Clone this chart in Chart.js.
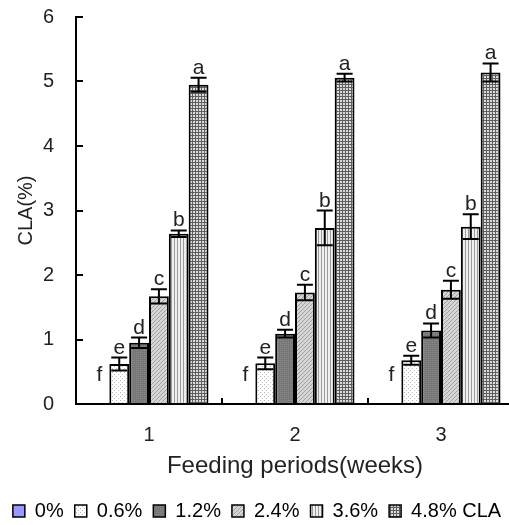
<!DOCTYPE html>
<html>
<head>
<meta charset="utf-8">
<script src="https://cdn.jsdelivr.net/npm/chart.js@4.4.0/dist/chart.umd.min.js"></script>
<style>
  html, body { margin: 0; padding: 0; background: #fff; overflow: hidden; }
  #wrap { width: 520px; height: 525px; }
</style>
</head>
<body>
<div id="wrap"><canvas id="chart" width="520" height="525"></canvas></div>
<script>
  // categories (feeding period, weeks)
  const weeks = ['1', '2', '3'];
  const levels = ['0%', '0.6%', '1.2%', '2.4%', '3.6%', '4.8% CLA'];

  // CLA (%) per dietary CLA level
  const cla0  = [0, 0, 0];
  const cla06 = [0.62, 0.63, 0.68];
  const cla12 = [0.95, 1.09, 1.14];
  const cla24 = [1.67, 1.73, 1.77];
  const cla36 = [2.64, 2.73, 2.75];
  const cla48 = [4.95, 5.06, 5.14];

  // standard errors
  const err0  = [0, 0, 0];
  const err06 = [0.10, 0.09, 0.07];
  const err12 = [0.08, 0.06, 0.11];
  const err24 = [0.11, 0.12, 0.14];
  const err36 = [0.05, 0.27, 0.19];
  const err48 = [0.11, 0.06, 0.14];

  // significance letters (same in every period)
  const letters = ['f', 'e', 'd', 'c', 'b', 'a'];

  const yTicks = [0, 1, 2, 3, 4, 5, 6];

  const FONT = '"Liberation Sans", Arial, sans-serif';

  function makePattern(size, draw) {
    const c = document.createElement('canvas');
    c.width = size; c.height = size;
    const g = c.getContext('2d');
    draw(g, size);
    return g.createPattern(c, 'repeat');
  }

  const fills = [
    '#9999ff',
    makePattern(4, (g) => {           // sparse dots
      g.fillStyle = '#ffffff'; g.fillRect(0, 0, 4, 4);
      g.fillStyle = '#b8b8b8'; g.fillRect(0, 0, 1, 1); g.fillRect(2, 2, 1, 1);
    }),
    makePattern(2, (g) => {           // dark grey
      g.fillStyle = '#777777'; g.fillRect(0, 0, 2, 2);
      g.fillStyle = '#888888'; g.fillRect(0, 0, 1, 1);
    }),
    makePattern(4, (g) => {           // light diagonal
      g.fillStyle = '#d6d6d6'; g.fillRect(0, 0, 4, 4);
      g.fillStyle = '#a0a0a0';
      for (let i = 0; i < 4; i++) g.fillRect(i, 3 - i, 1, 1);
    }),
    makePattern(3, (g) => {           // vertical stripes
      g.fillStyle = '#f0f0f0'; g.fillRect(0, 0, 3, 3);
      g.fillStyle = '#9a9a9a'; g.fillRect(0, 0, 1, 3);
    }),
    makePattern(3, (g) => {           // grid
      g.fillStyle = '#dcdcdc'; g.fillRect(0, 0, 3, 3);
      g.fillStyle = '#5e5e5e'; g.fillRect(0, 0, 3, 1); g.fillRect(0, 0, 1, 3);
    })
  ];

  const values = [cla0, cla06, cla12, cla24, cla36, cla48];
  const errors = [err0, err06, err12, err24, err36, err48];

  const datasets = levels.map((name, i) => ({
    label: name,
    data: values[i],
    backgroundColor: fills[i],
    borderColor: '#000',
    borderWidth: 2,
    borderSkipped: 'bottom',
    categoryPercentage: 0.815,
    barPercentage: 1
  }));

  // axes lines, inward ticks, error bars and letters
  const extras = {
    id: 'extras',
    afterDatasetsDraw(chart) {
      const ctx = chart.ctx;
      const ys = chart.scales.y, xs = chart.scales.x;
      const area = chart.chartArea;
      ctx.save();
      ctx.strokeStyle = '#000';
      ctx.lineWidth = 2;
      ctx.lineCap = 'butt';
      const x0 = Math.round(area.left), yb = Math.round(area.bottom);
      ctx.beginPath();
      ctx.moveTo(x0, Math.round(area.top) - 1); ctx.lineTo(x0, yb + 1);
      ctx.moveTo(x0 - 1, yb); ctx.lineTo(area.right, yb);
      ctx.stroke();
      // inward ticks
      yTicks.forEach(t => {
        if (t === 0) return;
        const py = Math.round(ys.getPixelForValue(t));
        ctx.beginPath(); ctx.moveTo(x0, py); ctx.lineTo(x0 + 7, py); ctx.stroke();
      });
      const step = xs.getPixelForValue(1) - xs.getPixelForValue(0);
      weeks.forEach((w, k) => {
        const px = Math.round(xs.getPixelForValue(k) + step / 2);
        ctx.beginPath(); ctx.moveTo(px, yb); ctx.lineTo(px, yb - 6); ctx.stroke();
      });
      ctx.font = '21px ' + FONT;
      ctx.fillStyle = '#222';
      ctx.textAlign = 'center';
      ctx.textBaseline = 'alphabetic';
      values.forEach((vals, i) => {
        const meta = chart.getDatasetMeta(i);
        meta.data.forEach((bar, j) => {
          const v = vals[j], e = errors[i][j];
          if (v > 0) {
            const top = ys.getPixelForValue(v + e), bot = ys.getPixelForValue(v - e);
            ctx.beginPath();
            ctx.moveTo(bar.x, top); ctx.lineTo(bar.x, bot);
            ctx.moveTo(bar.x - 8, top); ctx.lineTo(bar.x + 8, top);
            ctx.moveTo(bar.x - 8, bot); ctx.lineTo(bar.x + 8, bot);
            ctx.stroke();
            ctx.fillText(letters[i], bar.x, top - 4);
          } else {
            ctx.fillText(letters[i], bar.x, ys.getPixelForValue(0) - 23);
          }
        });
      });
      ctx.restore();
    }
  };

  new Chart(document.getElementById('chart'), {
    type: 'bar',
    data: { labels: weeks, datasets: datasets },
    plugins: [extras],
    options: {
      responsive: false,
      animation: false,
      layout: { padding: { top: 17, right: 6, left: 0, bottom: -6 } },
      plugins: {
        tooltip: { enabled: false },
        legend: {
          position: 'bottom',
          labels: {
            color: '#222',
            font: { family: FONT, size: 20 },
            boxWidth: 12,
            boxHeight: 12,
            padding: 11,
            generateLabels: (chart) => levels.map((name, i) => ({
              text: name,
              fillStyle: fills[i],
              strokeStyle: '#000',
              lineWidth: 1.5,
              datasetIndex: i
            }))
          }
        }
      },
      scales: {
        x: {
          afterFit: (s) => { s.height = 86; s.paddingLeft = 0; s.paddingRight = 0; },
          grid: { display: false, drawTicks: false },
          border: { display: false },
          ticks: { color: '#222', font: { family: FONT, size: 20 }, padding: 19 },
          title: { display: true, text: 'Feeding periods(weeks)', color: '#222', font: { family: FONT, size: 24 }, padding: { top: 6, bottom: 9 } }
        },
        y: {
          min: 0, max: 6,
          afterFit: (s) => { s.width = 76; s.paddingTop = 0; s.paddingBottom = 0; },
          grid: { display: false, drawTicks: false },
          border: { display: false },
          ticks: { stepSize: 1, color: '#222', font: { family: FONT, size: 20 }, padding: 22 },
          title: { display: true, text: 'CLA(%)', color: '#222', font: { family: FONT, size: 20 }, padding: { top: 14, bottom: 14 } }
        }
      }
    }
  });
</script>
</body>
</html>
